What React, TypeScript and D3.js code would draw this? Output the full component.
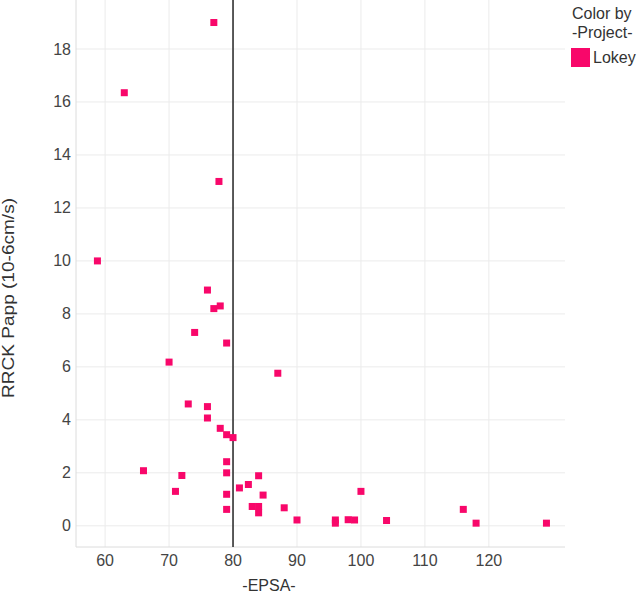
import React from 'react';
import * as d3 from 'd3';

// EPSA vs RRCK Papp, one project (Lokey)
const epsa = [77, 63, 77.8, 58.8, 76, 77, 78, 74, 79, 70, 87, 73, 76, 76, 78, 79, 80, 66, 72, 79, 79, 84, 71, 81, 82.4, 79, 84.7, 79, 83, 84, 84, 88, 90, 100, 96, 96, 98, 99, 104, 116, 118, 129];
const papp = [19.0, 16.35, 13.0, 10.0, 8.9, 8.2, 8.3, 7.3, 6.9, 6.18, 5.76, 4.6, 4.5, 4.07, 3.68, 3.44, 3.33, 2.08, 1.9, 2.42, 2.0, 1.89, 1.3, 1.43, 1.56, 1.19, 1.16, 0.62, 0.73, 0.73, 0.49, 0.68, 0.22, 1.3, 0.22, 0.1, 0.23, 0.22, 0.2, 0.62, 0.1, 0.1];
const xTicks = [60, 70, 80, 90, 100, 110, 120];
const yTicks = [0, 2, 4, 6, 8, 10, 12, 14, 16, 18];
const threshold = 80;
const projectName = 'Lokey';

const W = 639;
const H = 593;
const plot = { left: 76, right: 565, top: 0, bottom: 547 };
const pink = '#f8076a';
const font = '"Liberation Sans", Arial, sans-serif';

export default function App() {
  const x = d3.scaleLinear().domain([55.45, 131.9]).range([plot.left, plot.right]);
  const y = d3.scaleLinear().domain([-0.8, 19.85]).range([plot.bottom, plot.top]);
  const pts = epsa.map((e, i) => ({ e, p: papp[i] }));
  const sz = 7;

  return (
    <svg width={W} height={H} style={{ position: 'fixed', left: 0, top: 0, background: '#fff' }} fontFamily={font}>
      {/* grid */}
      {xTicks.map(t => (
        <line key={'gx' + t} x1={x(t)} x2={x(t)} y1={plot.top} y2={plot.bottom} stroke="#ebebeb" strokeWidth={1} />
      ))}
      {yTicks.map(t => (
        <line key={'gy' + t} x1={plot.left} x2={plot.right} y1={y(t)} y2={y(t)} stroke="#ebebeb" strokeWidth={1} />
      ))}
      {/* frame */}
      <line x1={plot.left} x2={plot.left} y1={plot.top} y2={plot.bottom} stroke="#dcdcdc" />
      <line x1={plot.left} x2={plot.right} y1={plot.bottom} y2={plot.bottom} stroke="#dcdcdc" />

      {/* threshold */}
      <line x1={x(threshold)} x2={x(threshold)} y1={plot.top} y2={plot.bottom} stroke="#333" strokeWidth={1.6} />

      {/* points */}
      {pts.map((d, i) => (
        <rect key={i} x={x(d.e) - sz / 2} y={y(d.p) - sz / 2} width={sz} height={sz} fill={pink} />
      ))}

      {/* tick labels */}
      {xTicks.map(t => (
        <text key={'tx' + t} x={x(t)} y={565.5} textAnchor="middle" fontSize={16} fill="#444">{t}</text>
      ))}
      {yTicks.map(t => (
        <text key={'ty' + t} x={71} y={y(t) + 5.5} textAnchor="end" fontSize={16} fill="#444">{t}</text>
      ))}

      {/* axis titles */}
      <text x={269} y={591} textAnchor="middle" fontSize={16} fill="#333">-EPSA-</text>
      <text transform={`translate(14,298) rotate(-90)`} textAnchor="middle" fontSize={16} fill="#333"
        textLength={200} lengthAdjust="spacingAndGlyphs">RRCK Papp (10-6cm/s)</text>

      {/* legend */}
      <text x={572} y={19} fontSize={16} fill="#333">Color by</text>
      <text x={572} y={38} fontSize={16} fill="#333">-Project-</text>
      <rect x={571} y={48} width={19} height={19} fill={pink} />
      <text x={593} y={63} fontSize={16} fill="#333">{projectName}</text>
    </svg>
  );
}
